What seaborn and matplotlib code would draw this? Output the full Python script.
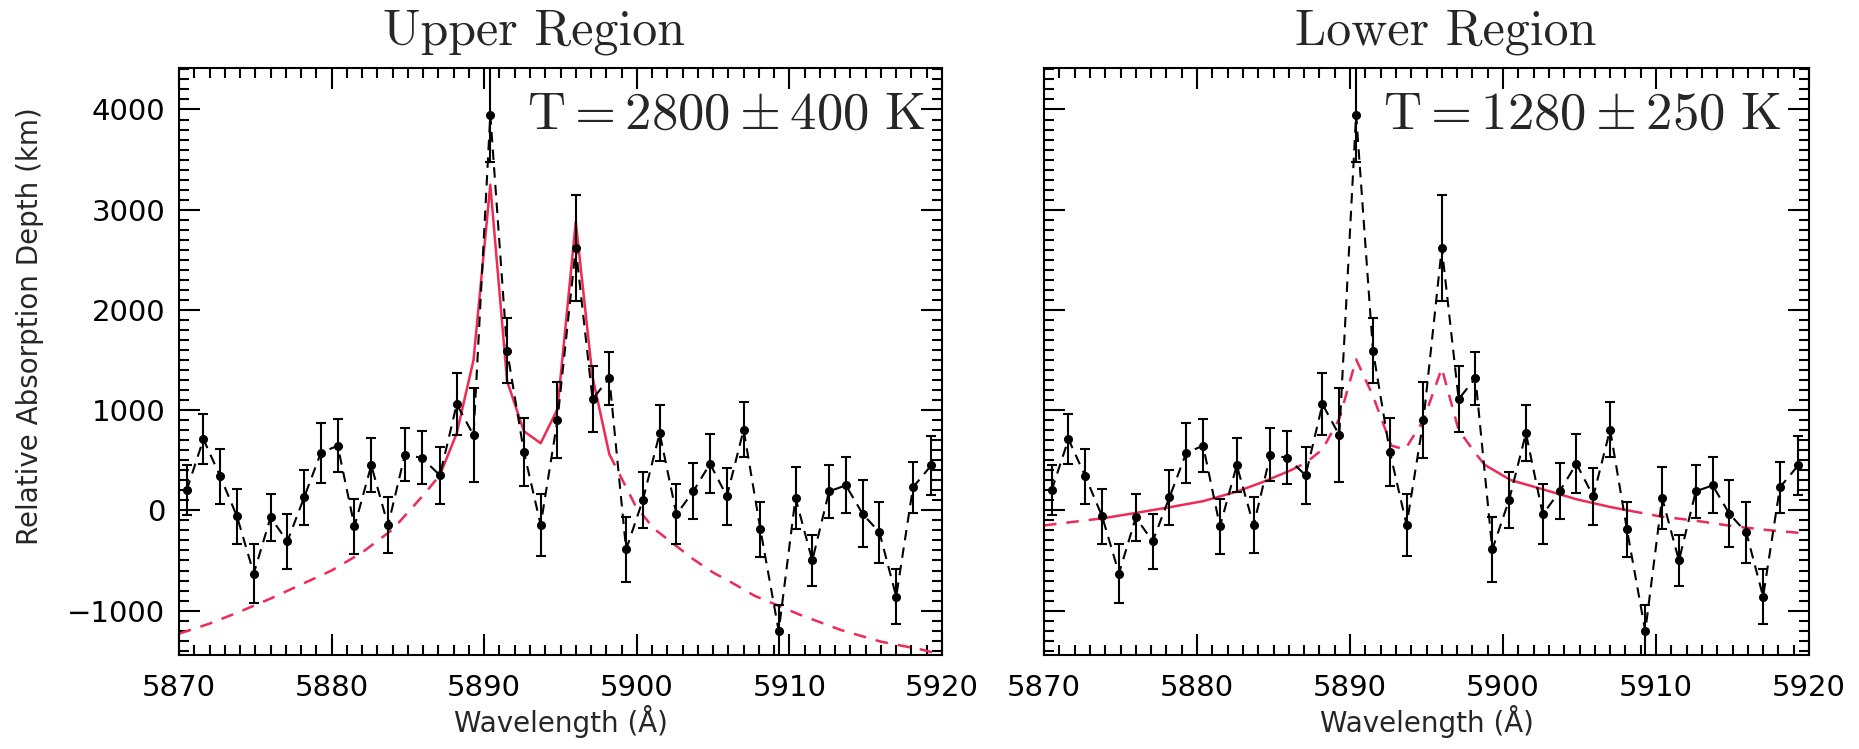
import numpy as np
import pandas as pd
import matplotlib
matplotlib.use("Agg")
import matplotlib.pyplot as plt
import seaborn as sns
from matplotlib.ticker import MultipleLocator

sns.set_theme(style="ticks")
plt.rcParams["font.family"] = ["DejaVu Sans"]
plt.rcParams["mathtext.fontset"] = "cm"

# binned spectrum (same data in both panels)
wavelength = [5870.5, 5871.6, 5872.7, 5873.8, 5874.9, 5876.0, 5877.1, 5878.2, 5879.3,
              5880.4, 5881.5, 5882.6, 5883.7, 5884.8, 5885.9, 5887.1, 5888.2, 5889.3,
              5890.4, 5891.5, 5892.6, 5893.7, 5894.8, 5896.0, 5897.1, 5898.2, 5899.3,
              5900.4, 5901.5, 5902.6, 5903.7, 5904.8, 5905.9, 5907.0, 5908.1, 5909.3,
              5910.4, 5911.5, 5912.6, 5913.7, 5914.8, 5915.9, 5917.0, 5918.1, 5919.3]
depth = [200, 710, 340, -60, -630, -70, -310, 130, 575,
         645, -160, 450, -150, 555, 525, 350, 1060, 750,
         3950, 1595, 585, -145, 900, 2620, 1110, 1320, -390,
         105, 770, -40, 190, 465, 140, 805, -190, -1205,
         125, -500, 190, 250, -35, -220, -860, 230, 450]
depth_err = [250, 250, 277, 272, 290, 234, 272, 277, 300,
             267, 275, 270, 280, 262, 264, 283, 312, 469,
             470, 320, 338, 307, 380, 527, 330, 264, 326,
             278, 278, 300, 280, 293, 282, 272, 278, 260,
             307, 253, 262, 278, 335, 307, 274, 253, 297]

# model curves
upper_model_wl = [5870, 5872, 5874, 5876, 5878, 5880, 5882, 5884, 5886, 5887.1,
                  5888.2, 5889.3, 5890.4, 5891.5, 5892.6, 5893.7, 5894.8, 5896.0,
                  5897.1, 5898.2, 5899.9, 5901.1, 5902.4, 5903.7, 5905.0, 5906.4,
                  5907.7, 5909.2, 5910.7, 5913.4, 5916.0, 5918.6, 5920]
upper_model = [-1230, -1130, -1010, -880, -740, -600, -420, -190, 150, 352,
               770, 1500, 3250, 1290, 790, 670, 1010, 2880,
               1330, 560, 50, -180, -333, -487, -620, -736,
               -851, -946, -1042, -1195, -1310, -1387, -1440]
upper_fit_range = [(5887.1, 5898.2)]

lower_model_wl = [5870, 5873.8, 5876.1, 5878.3, 5880.4, 5882.6, 5884.3, 5886.1, 5887.1,
                  5888.2, 5889.3, 5890.4, 5891.5, 5892.7, 5893.6, 5894.8, 5896.0, 5897.1,
                  5898.2, 5898.8, 5900.5, 5902.7, 5904.8, 5907.0, 5908.3, 5910.3, 5912.4,
                  5915.0, 5917.2, 5920]
lower_model = [-150, -80, -23, 34, 92, 187, 283, 398, 474,
               608, 914, 1507, 1143, 646, 608, 900, 1418, 800,
               570, 455, 302, 206, 111, 34, -4, -61, -99,
               -157, -195, -233]
lower_fit_range = [(5873.8, 5886.1), (5898.8, 5908.3)]

panels = [
    ("Upper Region", r"$\mathrm{T} = 2800 \pm 400\ \mathrm{K}$", upper_model_wl, upper_model, upper_fit_range, 0.465, 0.978),
    ("Lower Region", r"$\mathrm{T} = 1280 \pm 250\ \mathrm{K}$", lower_model_wl, lower_model, lower_fit_range, 0.525, 0.964),
]

RED = "#EE2A55"
df = pd.DataFrame({"wl": wavelength, "depth": depth, "err": depth_err})

fig = plt.figure(figsize=(18.59, 7.49), dpi=100)
axes = [fig.add_axes([179 / 1859, 94 / 749, 763 / 1859, 587 / 749]),
        fig.add_axes([1044 / 1859, 94 / 749, 765 / 1859, 587 / 749])]

for ax, (title, label, mwl, mval, fit_ranges, tx, lx) in zip(axes, panels):
    mdf = pd.DataFrame({"wl": mwl, "val": mval})
    # dashed model outside the fitted windows, solid inside them
    edges = [mdf["wl"].min()] + [v for r in fit_ranges for v in r] + [mdf["wl"].max()]
    for i in range(0, len(edges), 2):
        seg = mdf[(mdf["wl"] >= edges[i] - 1e-6) & (mdf["wl"] <= edges[i + 1] + 1e-6)]
        sns.lineplot(data=seg, x="wl", y="val", ax=ax, color=RED, lw=1.8,
                     linestyle=(0, (5, 4)), sort=False, estimator=None)
    for lo, hi in fit_ranges:
        seg = mdf[(mdf["wl"] >= lo - 1e-6) & (mdf["wl"] <= hi + 1e-6)]
        sns.lineplot(data=seg, x="wl", y="val", ax=ax, color=RED, lw=1.8,
                     sort=False, estimator=None)

    sns.lineplot(data=df, x="wl", y="depth", ax=ax, color="black", lw=1.5,
                 linestyle=(0, (5, 3.5)), sort=False, estimator=None)
    ax.errorbar(df["wl"], df["depth"], yerr=df["err"], fmt="o", color="black",
                ms=5.5, elinewidth=1.5, capsize=3.4, capthick=1.5)

    ax.set_xlim(5870, 5920)
    ax.set_ylim(-1443, 4414)
    ax.xaxis.set_major_locator(MultipleLocator(10))
    ax.xaxis.set_minor_locator(MultipleLocator(1))
    ax.yaxis.set_major_locator(MultipleLocator(1000))
    ax.yaxis.set_minor_locator(MultipleLocator(100))
    ax.tick_params(which="both", direction="in", top=True, right=True, width=1.5,
                   labelsize=21, colors="black")
    ax.tick_params(which="major", length=15)
    ax.tick_params(which="minor", length=7)
    ax.tick_params(axis="x", pad=14)
    ax.tick_params(axis="y", pad=10)
    for s in ax.spines.values():
        s.set_linewidth(1.5)
        s.set_color("black")
    ax.set_xlabel("Wavelength (Å)", fontsize=20)
    ax.xaxis.set_label_coords(0.5, -0.085)
    ax.set_ylabel("")
    ax.text(tx, 1.04, title, transform=ax.transAxes, ha="center", va="baseline",
            fontsize=36, family="cmr10")
    ax.text(lx, 0.896, label, transform=ax.transAxes, ha="right", va="baseline",
            fontsize=38)

axes[0].set_ylabel("Relative Absorption Depth (km)", fontsize=20)
axes[0].yaxis.set_label_coords(-0.177, 0.56)
axes[1].set_yticklabels([])

fig.savefig("out.png", dpi=100)
